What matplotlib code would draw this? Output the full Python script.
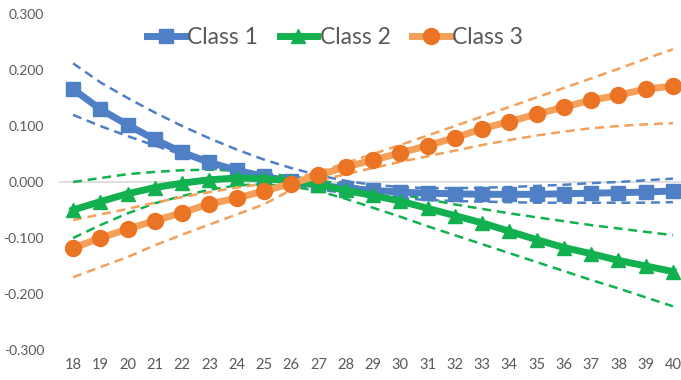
import numpy as np
import matplotlib.pyplot as plt

# age categories on the x axis
ages = list(range(18, 41))

# class 1: estimate with upper / lower bounds
class1 = [0.166, 0.130, 0.102, 0.076, 0.053, 0.035, 0.021, 0.010, 0.001, -0.006, -0.011, -0.015,
          -0.018, -0.020, -0.021, -0.022, -0.022, -0.022, -0.021, -0.020, -0.019, -0.018, -0.016]
class1Upper = [0.212, 0.178, 0.150, 0.124, 0.100, 0.078, 0.058, 0.040, 0.025, 0.012, 0.002, -0.005,
               -0.009, -0.011, -0.011, -0.010, -0.009, -0.007, -0.005, -0.002, 0.000, 0.003, 0.006]
class1Lower = [0.120, 0.100, 0.082, 0.065, 0.049, 0.034, 0.020, 0.007, -0.004, -0.013, -0.020, -0.025,
               -0.029, -0.032, -0.034, -0.035, -0.036, -0.037, -0.037, -0.037, -0.037, -0.037, -0.036]

# class 2
class2 = [-0.050, -0.035, -0.021, -0.010, -0.002, 0.004, 0.007, 0.006, 0.002, -0.005, -0.015, -0.024,
          -0.034, -0.047, -0.060, -0.073, -0.088, -0.103, -0.117, -0.128, -0.140, -0.150, -0.160]
class2Upper = [0.000, 0.007, 0.014, 0.018, 0.021, 0.022, 0.020, 0.016, 0.010, 0.003, -0.005, -0.013,
               -0.022, -0.031, -0.040, -0.048, -0.056, -0.063, -0.070, -0.077, -0.083, -0.089, -0.095]
class2Lower = [-0.100, -0.077, -0.056, -0.038, -0.025, -0.014, -0.006, -0.004, -0.008, -0.016, -0.030, -0.046,
               -0.062, -0.079, -0.095, -0.111, -0.127, -0.143, -0.159, -0.175, -0.190, -0.206, -0.222]

# class 3
class3 = [-0.118, -0.100, -0.084, -0.069, -0.055, -0.039, -0.029, -0.016, -0.003, 0.012, 0.027, 0.039,
          0.052, 0.065, 0.079, 0.095, 0.108, 0.121, 0.134, 0.146, 0.155, 0.166, 0.171]
class3Upper = [-0.068, -0.058, -0.048, -0.037, -0.027, -0.018, -0.010, -0.003, 0.005, 0.018, 0.034, 0.050,
               0.066, 0.083, 0.100, 0.117, 0.134, 0.151, 0.168, 0.185, 0.202, 0.220, 0.237]
class3Lower = [-0.170, -0.152, -0.134, -0.113, -0.094, -0.076, -0.058, -0.040, -0.014, 0.002, 0.014, 0.025,
               0.036, 0.046, 0.056, 0.066, 0.075, 0.083, 0.090, 0.096, 0.100, 0.103, 0.105]

yTicks = [-0.3, -0.2, -0.1, 0.0, 0.1, 0.2, 0.3]
yTickLabels = ['-0.300', '-0.200', '-0.100', '0.000', '0.100', '0.200', '0.300']

plt.rcParams['font.family'] = ['Lato', 'DejaVu Sans']
textColour = '#595959'

fig = plt.figure(figsize=(6.81, 3.8), dpi=100)
ax = fig.add_axes([59.4 / 681, 30 / 380, 627.2 / 681, 336 / 380])

# zero line
ax.axhline(0, color='#d9d9d9', lw=1.2, zorder=1)

dashStyle = dict(lw=1.8, dashes=(3.6, 2.3))

# (values, upper, lower, line colour, marker colour, marker, size, label)
series = [
    (class1, class1Upper, class1Lower, '#4f7fc4', '#4f7fc4', 's', 10.5, 'Class 1'),
    (class2, class2Upper, class2Lower, '#12b04e', '#12b04e', '^', 10.5, 'Class 2'),
    (class3, class3Upper, class3Lower, '#f4a05a', '#ea7423', 'o', 11.5, 'Class 3'),
]

handles = []
for vals, upper, lower, lineCol, markCol, mk, ms, name in series:
    ax.plot(ages, upper, color=lineCol, zorder=3, **dashStyle)
    ax.plot(ages, lower, color=lineCol, zorder=3, **dashStyle)
    h, = ax.plot(ages, vals, color=lineCol, lw=5, marker=mk, markersize=ms,
                 markerfacecolor=markCol, markeredgecolor=markCol, zorder=4, label=name)
    handles.append(h)

ax.set_xlim(17.5, 40.5)
ax.set_ylim(-0.3, 0.3)
ax.set_xticks(ages, [str(a) for a in ages])
ax.set_yticks(yTicks, yTickLabels)
ax.tick_params(length=0, labelsize=10.5, colors=textColour, pad=6)
ax.tick_params(axis='y', labelsize=10, pad=11)

# no borders
for s in ['top', 'bottom', 'left', 'right']:
    ax.spines[s].set_visible(False)

leg = fig.legend(handles=handles, loc='center', bbox_to_anchor=(335 / 681, 1 - 38 / 380),
                 ncol=3, frameon=False, fontsize=16.5, handlelength=1.65, columnspacing=0.95,
                 handletextpad=0.1, labelcolor=textColour)

plt.savefig('out.png', dpi=100)
